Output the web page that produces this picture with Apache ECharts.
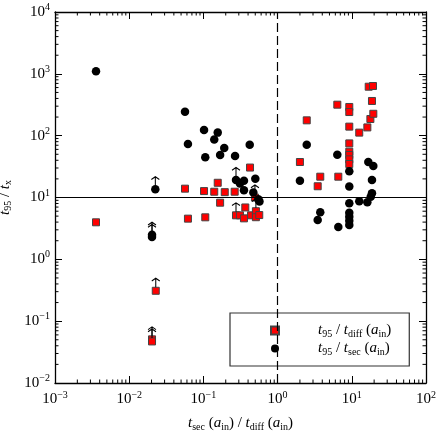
<!DOCTYPE html>
<html>
<head>
<meta charset="utf-8">
<script src="https://cdn.jsdelivr.net/npm/echarts@6/dist/echarts.min.js"></script>
<style>
  html, body { margin: 0; padding: 0; background: #fff; }
  #chart { width: 436px; height: 438px; }
</style>
</head>
<body>
<div id="chart"></div>
<script>
// t95 / t_diff(a_in) vs t_sec/t_diff  (red squares)
const diffPoints = [
  [0.00357, 3.97], [0.0203, 0.0508], [0.0203, 0.047], [0.0228, 0.31],
  [0.0565, 13.9], [0.0619, 4.55], [0.102, 12.7], [0.106, 4.78],
  [0.140, 12.4], [0.156, 17.3], [0.168, 8.24], [0.194, 12.2],
  [0.264, 12.4], [0.275, 5.15], [0.311, 5.15], [0.352, 4.6],
  [0.367, 6.9], [0.425, 30.5], [0.439, 5.15], [0.495, 10.0],
  [0.51, 6.0], [0.51, 4.8], [0.566, 5.2],
  [2.0, 37.5], [2.47, 177], [3.47, 15.2], [3.76, 21.7],
  [6.38, 317], [6.58, 21.7], [9.25, 291], [9.25, 241],
  [9.25, 140], [9.25, 75], [9.25, 55], [9.25, 48.7],
  [9.25, 41.4], [9.25, 34.8], [12.6, 112], [16.2, 136],
  [16.9, 619], [17.8, 186], [18.7, 364], [19.3, 635], [19.5, 226]
];
// t95 / t_sec(a_in)  (black circles)
const secPoints = [
  [0.00357, 1100], [0.0203, 2.5], [0.0203, 2.3], [0.0225, 13.6],
  [0.0565, 244], [0.0619, 73], [0.102, 124], [0.106, 44.7],
  [0.140, 87], [0.156, 112], [0.168, 48.7], [0.191, 63],
  [0.267, 46.9], [0.275, 19.2], [0.311, 16.9], [0.352, 18.7],
  [0.352, 13.1], [0.421, 71.4], [0.471, 12.0], [0.501, 20.1],
  [0.55, 9.35], [0.57, 8.6],
  [2.0, 18.7], [2.47, 71.4], [3.47, 4.33], [3.76, 5.75],
  [6.38, 49.2], [6.58, 3.33], [9.25, 26.5], [9.25, 15],
  [9.25, 8.05], [9.25, 5.67], [9.25, 4.9], [9.25, 4.2],
  [9.25, 3.59], [12.6, 8.67], [16.2, 8.36], [16.7, 37.5],
  [18.0, 10.3], [18.7, 19.2], [18.7, 11.7], [19.5, 32.3]
];
// points that are lower limits (drawn with an up arrow)
const lowerLimits = [
  [0.0203, 0.0508], [0.0203, 0.047], [0.0228, 0.31],
  [0.0203, 2.5], [0.0203, 2.3], [0.0225, 13.6],
  [0.275, 19.2], [0.275, 5.15], [0.495, 10.0], [0.51, 6.0]
];
// reference lines
const hLineY = [10];
const vLineX = [1];

const xRange = [0.001, 100];
const yRange = [0.01, 10000];

// minor ticks at 2..9 x 10^n inside each decade
function minorValues(range) {
  const out = [];
  const lo = Math.round(Math.log10(range[0]));
  const hi = Math.round(Math.log10(range[1]));
  for (let e = lo; e < hi; e++) {
    for (let k = 2; k <= 9; k++) out.push(k * Math.pow(10, e));
  }
  return out;
}
const xMinor = minorValues(xRange);
const yMinor = minorValues(yRange);

const serif = 'Liberation Serif';
const rich = {
  t: { fontStyle: 'italic', fontSize: 15, fontFamily: serif, color: '#000' },
  n: { fontSize: 15, fontFamily: serif, color: '#000' },
  s: { fontSize: 10, fontFamily: serif, color: '#000', padding: [7, 0, 0, 0] },
  sp: { width: 34 }
};
const supRich = {
  b: { fontSize: 15, fontFamily: serif, color: '#000' },
  e: { fontSize: 10, fontFamily: serif, color: '#000', padding: [0, 0, 9, 0] }
};

function powLabel(v) {
  const e = Math.round(Math.log10(v));
  return '{b|10}{e|' + (e < 0 ? '\u2212' + (-e) : e) + '}';
}

const legendNames = {
  diff: '{sp|}{t|t}{s|95}{n| / }{t|t}{s|diff}{n| (}{t|a}{s|in}{n|)}',
  sec: '{sp|}{t|t}{s|95}{n| / }{t|t}{s|sec}{n| (}{t|a}{s|in}{n|)}'
};

const axisCommon = {
  type: 'log',
  logBase: 10,
  splitLine: { show: false },
  axisLine: { show: true, onZero: false, lineStyle: { color: '#000', width: 1.3 } },
  axisTick: { show: true, inside: true, length: 7, lineStyle: { color: '#000', width: 1 } },
  minorTick: { show: false },
  minorSplitLine: { show: false }
};

const MINOR_LEN = 3.5;
function minorTickItem(horizontal) {
  return function (params, api) {
    const lines = [];
    if (horizontal) {
      const bottom = api.coord([api.value(0), yRange[0]]);
      const top = api.coord([api.value(0), yRange[1]]);
      lines.push([bottom[0], bottom[1], bottom[0], bottom[1] - MINOR_LEN]);
      lines.push([top[0], top[1], top[0], top[1] + MINOR_LEN]);
    } else {
      const left = api.coord([xRange[0], api.value(1)]);
      const right = api.coord([xRange[1], api.value(1)]);
      lines.push([left[0], left[1], left[0] + MINOR_LEN, left[1]]);
      lines.push([right[0], right[1], right[0] - MINOR_LEN, right[1]]);
    }
    return {
      type: 'group',
      children: lines.map(l => ({
        type: 'line',
        shape: { x1: l[0], y1: l[1], x2: l[2], y2: l[3] },
        style: { stroke: '#000', lineWidth: 1 }
      }))
    };
  };
}

const chart = echarts.init(document.getElementById('chart'));

const option = {
  animation: false,
  backgroundColor: '#fff',
  grid: { left: 55, right: 10, top: 12, bottom: 55, containLabel: false, outerBoundsMode: 'none' },
  xAxis: [
    Object.assign({}, axisCommon, {
      position: 'bottom', min: xRange[0], max: xRange[1],
      axisLabel: { margin: 7, formatter: powLabel, rich: supRich },
      name: '{t|t}{s|sec}{n| (}{t|a}{s|in}{n|) / }{t|t}{s|diff}{n| (}{t|a}{s|in}{n|)}',
      nameLocation: 'middle', nameGap: 32,
      nameTextStyle: { rich: rich }
    }),
    Object.assign({}, axisCommon, {
      position: 'top', min: xRange[0], max: xRange[1],
      axisLabel: { show: false }
    })
  ],
  yAxis: [
    Object.assign({}, axisCommon, {
      position: 'left', min: yRange[0], max: yRange[1],
      axisLabel: { margin: 5, formatter: powLabel, rich: supRich },
      name: '{t|t}{s|95}{n| / }{t|t}{s|x}',
      nameLocation: 'middle', nameGap: 37, nameRotate: 90,
      nameTextStyle: { rich: rich }
    }),
    Object.assign({}, axisCommon, {
      position: 'right', min: yRange[0], max: yRange[1],
      axisLabel: { show: false }
    })
  ],
  legend: {
    left: 230, top: 313,
    orient: 'vertical',
    width: 179,
    padding: [9, 18, 9, 40],
    itemWidth: 8, itemHeight: 8, itemGap: 1,
    borderColor: '#333', borderWidth: 1.2, borderRadius: 0,
    data: [
      { name: 'diff', icon: 'rect' },
      { name: 'sec', icon: 'circle' }
    ],
    formatter: function (name) { return legendNames[name]; },
    textStyle: { rich: rich, lineHeight: 17 }
  },
  series: [
    {
      name: 'diff', type: 'scatter',
      xAxisIndex: 0, yAxisIndex: 0,
      symbol: 'rect', symbolSize: 7,
      itemStyle: { color: '#ff0000', borderColor: '#444', borderWidth: 1, opacity: 1 },
      data: diffPoints,
      z: 3,
      markLine: {
        silent: true, symbol: ['none', 'none'], label: { show: false },
        animation: false,
        data: hLineY.map(v => ({ yAxis: v, lineStyle: { color: '#000', width: 1.2, type: 'solid' } }))
          .concat(vLineX.map(v => ({ xAxis: v, lineStyle: { color: '#000', width: 1.2, type: [9, 4] } })))
      }
    },
    {
      name: 'sec', type: 'scatter',
      xAxisIndex: 0, yAxisIndex: 0,
      symbol: 'circle', symbolSize: 8.5,
      itemStyle: { color: '#000', opacity: 1 },
      data: secPoints,
      z: 4
    },
    {
      name: 'limits', type: 'scatter',
      xAxisIndex: 0, yAxisIndex: 0,
      symbol: 'path://M5,14 L5,1 M1,5 L5,1 L9,5',
      symbolSize: [8, 9],
      symbolOffset: [0, -8],
      itemStyle: { color: 'none', borderColor: '#000', borderWidth: 1.1, opacity: 1 },
      data: lowerLimits,
      z: 5
    },
    {
      name: 'xMinorTicks', type: 'custom',
      xAxisIndex: 0, yAxisIndex: 0,
      silent: true, clip: false,
      renderItem: minorTickItem(true),
      data: xMinor.map(v => [v, yRange[0]]),
      z: 2
    },
    {
      name: 'yMinorTicks', type: 'custom',
      xAxisIndex: 0, yAxisIndex: 0,
      silent: true, clip: false,
      renderItem: minorTickItem(false),
      data: yMinor.map(v => [xRange[0], v]),
      z: 2
    }
  ]
};

chart.setOption(option);
</script>
</body>
</html>
